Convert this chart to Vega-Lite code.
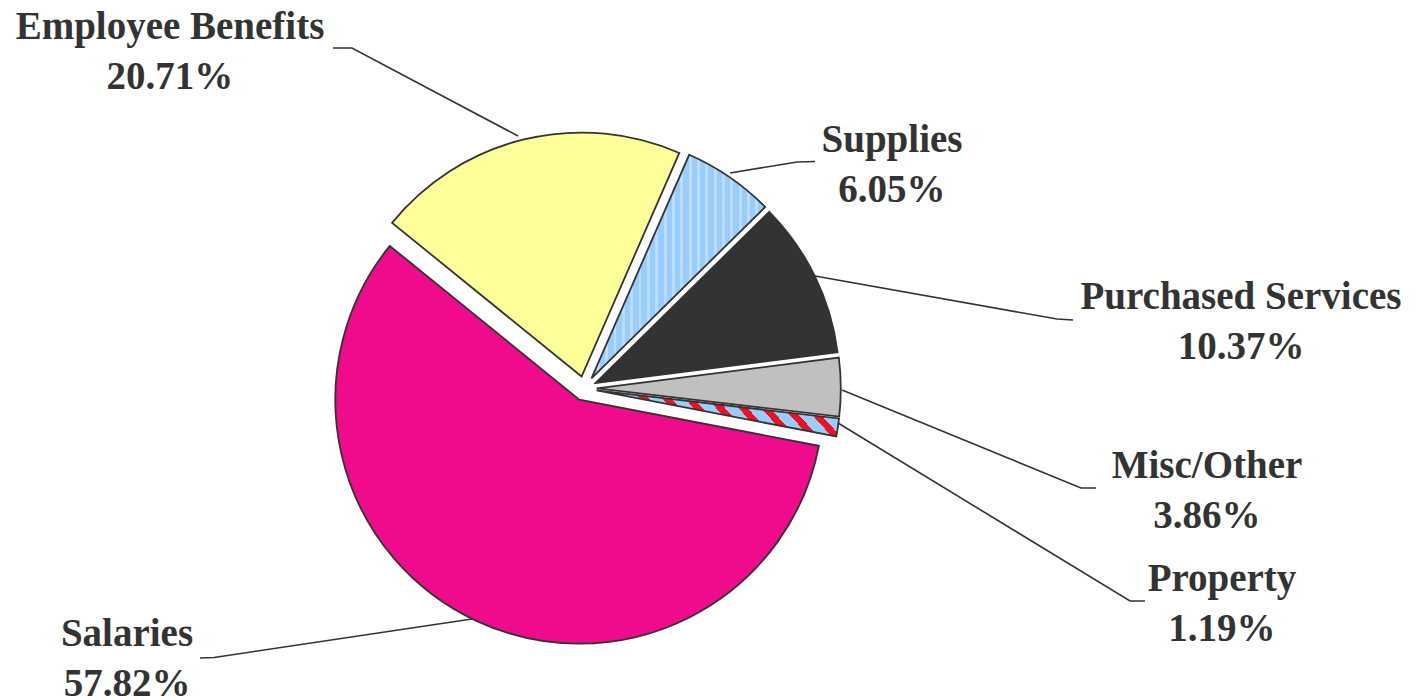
{
  "$schema": "https://vega.github.io/schema/vega-lite/v6.json",
  "width": 1425,
  "height": 700,
  "padding": 0,
  "autosize": "none",
  "background": "white",
  "config": {"view": {"stroke": null}},
  "datasets": {
    "slices": [
      {"category": "Salaries", "value": 57.82, "lx": -187.5, "ly": -100.61},
      {"category": "Employee Benefits", "value": 20.71, "lx": -169.88, "ly": 148.16},
      {"category": "Supplies", "value": 6.05, "lx": 126.02, "ly": 101.85},
      {"category": "Purchased Services", "value": 10.37, "lx": 269.06, "ly": 37.5},
      {"category": "Misc/Other", "value": 3.86, "lx": 255.12, "ly": -31.76},
      {"category": "Property", "value": 1.19, "lx": 261.27, "ly": -78.07}
    ],
    "leaders": [
      {"category": "Employee Benefits", "i": 0, "x": -103.07, "y": 139.55},
      {"category": "Employee Benefits", "i": 1, "x": -95.29, "y": 139.55},
      {"category": "Employee Benefits", "i": 2, "x": -27.25, "y": 103.48},
      {"category": "Supplies", "i": 0, "x": 94.47, "y": 93.03},
      {"category": "Supplies", "i": 1, "x": 87.09, "y": 92.83},
      {"category": "Supplies", "i": 2, "x": 59.63, "y": 88.32},
      {"category": "Purchased Services", "i": 0, "x": 200.2, "y": 28.07},
      {"category": "Purchased Services", "i": 1, "x": 193.65, "y": 28.48},
      {"category": "Purchased Services", "i": 2, "x": 94.47, "y": 46.11},
      {"category": "Misc/Other", "i": 0, "x": 209.63, "y": -40.78},
      {"category": "Misc/Other", "i": 1, "x": 203.48, "y": -40.78},
      {"category": "Misc/Other", "i": 2, "x": 105.53, "y": -0.61},
      {"category": "Property", "i": 0, "x": 229.71, "y": -87.09},
      {"category": "Property", "i": 1, "x": 223.57, "y": -87.09},
      {"category": "Property", "i": 2, "x": 103.89, "y": -14.14},
      {"category": "Salaries", "i": 0, "x": -157.58, "y": -110.45},
      {"category": "Salaries", "i": 1, "x": -151.84, "y": -110.25},
      {"category": "Salaries", "i": 2, "x": -46.11, "y": -94.47}
    ]
  },
  "layer": [
    {
      "data": {"name": "slices"},
      "transform": [
        {"stack": "value", "groupby": [], "as": ["start", "end"]},
        {"filter": "datum.category === 'Salaries'"}
      ],
      "mark": {"type": "arc", "outerRadius": 244, "fill": "#F00A8C", "stroke": "#333333", "strokeWidth": 1.8, "xOffset": -5.19, "yOffset": 11.15},
      "encoding": {
        "theta": {"field": "start", "type": "quantitative", "scale": {"domain": [0, 100], "range": [1.761, 8.0442]}},
        "theta2": {"field": "end"},
        "x": {"datum": 0, "type": "quantitative", "scale": {"domain": [-239.55, 344.47], "nice": false, "zero": false}, "axis": null},
        "y": {"datum": 0, "type": "quantitative", "scale": {"domain": [-127.66, 159.22], "nice": false, "zero": false}, "axis": null}
      }
    },
    {
      "data": {"name": "slices"},
      "transform": [
        {"stack": "value", "groupby": [], "as": ["start", "end"]},
        {"filter": "datum.category === 'Employee Benefits'"}
      ],
      "mark": {"type": "arc", "outerRadius": 244, "fill": "#FFFF99", "stroke": "#333333", "strokeWidth": 1.8, "xOffset": -2.91, "yOffset": -11.95},
      "encoding": {
        "theta": {"field": "start", "type": "quantitative", "scale": {"domain": [0, 100], "range": [1.761, 8.0442]}},
        "theta2": {"field": "end"},
        "x": {"datum": 0, "type": "quantitative", "scale": {"domain": [-239.55, 344.47], "nice": false, "zero": false}, "axis": null},
        "y": {"datum": 0, "type": "quantitative", "scale": {"domain": [-127.66, 159.22], "nice": false, "zero": false}, "axis": null}
      }
    },
    {
      "data": {"name": "slices"},
      "transform": [
        {"stack": "value", "groupby": [], "as": ["start", "end"]},
        {"filter": "datum.category === 'Supplies'"}
      ],
      "mark": {
        "type": "arc", "outerRadius": 244, "stroke": "#333333", "strokeWidth": 1.8, "xOffset": 6.97, "yOffset": -10.14,
        "fill": {
          "gradient": "linear", "x1": 0, "y1": 0, "x2": 1, "y2": 0,
          "stops": [
            {"offset": 0, "color": "#99CCFF"}, {"offset": 0.031, "color": "#99CCFF"}, {"offset": 0.031, "color": "#BBDDFF"}, {"offset": 0.048, "color": "#BBDDFF"},
            {"offset": 0.048, "color": "#99CCFF"}, {"offset": 0.079, "color": "#99CCFF"}, {"offset": 0.079, "color": "#BBDDFF"}, {"offset": 0.096, "color": "#BBDDFF"},
            {"offset": 0.096, "color": "#99CCFF"}, {"offset": 0.127, "color": "#99CCFF"}, {"offset": 0.127, "color": "#BBDDFF"}, {"offset": 0.144, "color": "#BBDDFF"},
            {"offset": 0.144, "color": "#99CCFF"}, {"offset": 0.175, "color": "#99CCFF"}, {"offset": 0.175, "color": "#BBDDFF"}, {"offset": 0.192, "color": "#BBDDFF"},
            {"offset": 0.192, "color": "#99CCFF"}, {"offset": 0.223, "color": "#99CCFF"}, {"offset": 0.223, "color": "#BBDDFF"}, {"offset": 0.24, "color": "#BBDDFF"},
            {"offset": 0.24, "color": "#99CCFF"}, {"offset": 0.271, "color": "#99CCFF"}, {"offset": 0.271, "color": "#BBDDFF"}, {"offset": 0.288, "color": "#BBDDFF"},
            {"offset": 0.288, "color": "#99CCFF"}, {"offset": 0.319, "color": "#99CCFF"}, {"offset": 0.319, "color": "#BBDDFF"}, {"offset": 0.336, "color": "#BBDDFF"},
            {"offset": 0.336, "color": "#99CCFF"}, {"offset": 0.367, "color": "#99CCFF"}, {"offset": 0.367, "color": "#BBDDFF"}, {"offset": 0.384, "color": "#BBDDFF"},
            {"offset": 0.384, "color": "#99CCFF"}, {"offset": 0.415, "color": "#99CCFF"}, {"offset": 0.415, "color": "#BBDDFF"}, {"offset": 0.432, "color": "#BBDDFF"},
            {"offset": 0.432, "color": "#99CCFF"}, {"offset": 0.463, "color": "#99CCFF"}, {"offset": 0.463, "color": "#BBDDFF"}, {"offset": 0.48, "color": "#BBDDFF"},
            {"offset": 0.48, "color": "#99CCFF"}, {"offset": 0.511, "color": "#99CCFF"}, {"offset": 0.511, "color": "#BBDDFF"}, {"offset": 0.528, "color": "#BBDDFF"},
            {"offset": 0.528, "color": "#99CCFF"}, {"offset": 0.559, "color": "#99CCFF"}, {"offset": 0.559, "color": "#BBDDFF"}, {"offset": 0.576, "color": "#BBDDFF"},
            {"offset": 0.576, "color": "#99CCFF"}, {"offset": 0.607, "color": "#99CCFF"}, {"offset": 0.607, "color": "#BBDDFF"}, {"offset": 0.624, "color": "#BBDDFF"},
            {"offset": 0.624, "color": "#99CCFF"}, {"offset": 0.655, "color": "#99CCFF"}, {"offset": 0.655, "color": "#BBDDFF"}, {"offset": 0.672, "color": "#BBDDFF"},
            {"offset": 0.672, "color": "#99CCFF"}, {"offset": 0.703, "color": "#99CCFF"}, {"offset": 0.703, "color": "#BBDDFF"}, {"offset": 0.72, "color": "#BBDDFF"},
            {"offset": 0.72, "color": "#99CCFF"}, {"offset": 0.751, "color": "#99CCFF"}, {"offset": 0.751, "color": "#BBDDFF"}, {"offset": 0.768, "color": "#BBDDFF"},
            {"offset": 0.768, "color": "#99CCFF"}, {"offset": 0.799, "color": "#99CCFF"}, {"offset": 0.799, "color": "#BBDDFF"}, {"offset": 0.816, "color": "#BBDDFF"},
            {"offset": 0.816, "color": "#99CCFF"}, {"offset": 0.847, "color": "#99CCFF"}, {"offset": 0.847, "color": "#BBDDFF"}, {"offset": 0.864, "color": "#BBDDFF"},
            {"offset": 0.864, "color": "#99CCFF"}, {"offset": 0.895, "color": "#99CCFF"}, {"offset": 0.895, "color": "#BBDDFF"}, {"offset": 0.912, "color": "#BBDDFF"},
            {"offset": 0.912, "color": "#99CCFF"}, {"offset": 0.943, "color": "#99CCFF"}, {"offset": 0.943, "color": "#BBDDFF"}, {"offset": 0.96, "color": "#BBDDFF"},
            {"offset": 0.96, "color": "#99CCFF"}, {"offset": 0.991, "color": "#99CCFF"}, {"offset": 0.991, "color": "#BBDDFF"}, {"offset": 1, "color": "#BBDDFF"}
          ]
        }
      },
      "encoding": {
        "theta": {"field": "start", "type": "quantitative", "scale": {"domain": [0, 100], "range": [1.761, 8.0442]}},
        "theta2": {"field": "end"},
        "x": {"datum": 0, "type": "quantitative", "scale": {"domain": [-239.55, 344.47], "nice": false, "zero": false}, "axis": null},
        "y": {"datum": 0, "type": "quantitative", "scale": {"domain": [-127.66, 159.22], "nice": false, "zero": false}, "axis": null}
      }
    },
    {
      "data": {"name": "slices"},
      "transform": [
        {"stack": "value", "groupby": [], "as": ["start", "end"]},
        {"filter": "datum.category === 'Purchased Services'"}
      ],
      "mark": {"type": "arc", "outerRadius": 244, "fill": "#333333", "stroke": "#333333", "strokeWidth": 1.8, "xOffset": 11.06, "yOffset": -5.38},
      "encoding": {
        "theta": {"field": "start", "type": "quantitative", "scale": {"domain": [0, 100], "range": [1.761, 8.0442]}},
        "theta2": {"field": "end"},
        "x": {"datum": 0, "type": "quantitative", "scale": {"domain": [-239.55, 344.47], "nice": false, "zero": false}, "axis": null},
        "y": {"datum": 0, "type": "quantitative", "scale": {"domain": [-127.66, 159.22], "nice": false, "zero": false}, "axis": null}
      }
    },
    {
      "data": {"name": "slices"},
      "transform": [
        {"stack": "value", "groupby": [], "as": ["start", "end"]},
        {"filter": "datum.category === 'Misc/Other'"}
      ],
      "mark": {"type": "arc", "outerRadius": 244, "fill": "#C0C0C0", "stroke": "#333333", "strokeWidth": 1.8, "xOffset": 12.3, "yOffset": -0.07},
      "encoding": {
        "theta": {"field": "start", "type": "quantitative", "scale": {"domain": [0, 100], "range": [1.761, 8.0442]}},
        "theta2": {"field": "end"},
        "x": {"datum": 0, "type": "quantitative", "scale": {"domain": [-239.55, 344.47], "nice": false, "zero": false}, "axis": null},
        "y": {"datum": 0, "type": "quantitative", "scale": {"domain": [-127.66, 159.22], "nice": false, "zero": false}, "axis": null}
      }
    },
    {
      "data": {"name": "slices"},
      "transform": [
        {"stack": "value", "groupby": [], "as": ["start", "end"]},
        {"filter": "datum.category === 'Property'"}
      ],
      "mark": {
        "type": "arc", "outerRadius": 244, "stroke": "#333333", "strokeWidth": 1.8, "xOffset": 12.16, "yOffset": 1.87,
        "fill": {
          "gradient": "linear", "x1": 0, "y1": 0, "x2": 1, "y2": -0.173,
          "stops": [
            {"offset": 0, "color": "#99CCFF"}, {"offset": 0.054, "color": "#99CCFF"}, {"offset": 0.054, "color": "#EE1122"}, {"offset": 0.09, "color": "#EE1122"},
            {"offset": 0.09, "color": "#99CCFF"}, {"offset": 0.144, "color": "#99CCFF"}, {"offset": 0.144, "color": "#EE1122"}, {"offset": 0.18, "color": "#EE1122"},
            {"offset": 0.18, "color": "#99CCFF"}, {"offset": 0.234, "color": "#99CCFF"}, {"offset": 0.234, "color": "#EE1122"}, {"offset": 0.27, "color": "#EE1122"},
            {"offset": 0.27, "color": "#99CCFF"}, {"offset": 0.324, "color": "#99CCFF"}, {"offset": 0.324, "color": "#EE1122"}, {"offset": 0.36, "color": "#EE1122"},
            {"offset": 0.36, "color": "#99CCFF"}, {"offset": 0.414, "color": "#99CCFF"}, {"offset": 0.414, "color": "#EE1122"}, {"offset": 0.45, "color": "#EE1122"},
            {"offset": 0.45, "color": "#99CCFF"}, {"offset": 0.504, "color": "#99CCFF"}, {"offset": 0.504, "color": "#EE1122"}, {"offset": 0.54, "color": "#EE1122"},
            {"offset": 0.54, "color": "#99CCFF"}, {"offset": 0.594, "color": "#99CCFF"}, {"offset": 0.594, "color": "#EE1122"}, {"offset": 0.63, "color": "#EE1122"},
            {"offset": 0.63, "color": "#99CCFF"}, {"offset": 0.684, "color": "#99CCFF"}, {"offset": 0.684, "color": "#EE1122"}, {"offset": 0.72, "color": "#EE1122"},
            {"offset": 0.72, "color": "#99CCFF"}, {"offset": 0.774, "color": "#99CCFF"}, {"offset": 0.774, "color": "#EE1122"}, {"offset": 0.81, "color": "#EE1122"},
            {"offset": 0.81, "color": "#99CCFF"}, {"offset": 0.864, "color": "#99CCFF"}, {"offset": 0.864, "color": "#EE1122"}, {"offset": 0.9, "color": "#EE1122"},
            {"offset": 0.9, "color": "#99CCFF"}, {"offset": 0.954, "color": "#99CCFF"}, {"offset": 0.954, "color": "#EE1122"}, {"offset": 0.99, "color": "#EE1122"},
            {"offset": 0.99, "color": "#99CCFF"}, {"offset": 1, "color": "#99CCFF"}
          ]
        }
      },
      "encoding": {
        "theta": {"field": "start", "type": "quantitative", "scale": {"domain": [0, 100], "range": [1.761, 8.0442]}},
        "theta2": {"field": "end"},
        "x": {"datum": 0, "type": "quantitative", "scale": {"domain": [-239.55, 344.47], "nice": false, "zero": false}, "axis": null},
        "y": {"datum": 0, "type": "quantitative", "scale": {"domain": [-127.66, 159.22], "nice": false, "zero": false}, "axis": null}
      }
    },
    {
      "data": {"name": "leaders"},
      "mark": {"type": "line", "stroke": "#333333", "strokeWidth": 1.6},
      "encoding": {
        "x": {"field": "x", "type": "quantitative", "scale": {"domain": [-239.55, 344.47], "nice": false, "zero": false}, "axis": null},
        "y": {"field": "y", "type": "quantitative", "scale": {"domain": [-127.66, 159.22], "nice": false, "zero": false}, "axis": null},
        "detail": {"field": "category"},
        "order": {"field": "i"}
      }
    },
    {
      "data": {"name": "slices"},
      "transform": [
        {"calculate": "datum.category + '\\n' + format(datum.value, '.2f') + '%'", "as": "label"}
      ],
      "mark": {"type": "text", "font": "Liberation Serif", "fontWeight": "bold", "fontSize": 39, "fill": "#333333", "align": "center", "baseline": "middle", "lineBreak": "\n", "lineHeight": 50},
      "encoding": {
        "x": {"field": "lx", "type": "quantitative", "scale": {"domain": [-239.55, 344.47], "nice": false, "zero": false}, "axis": null},
        "y": {"field": "ly", "type": "quantitative", "scale": {"domain": [-127.66, 159.22], "nice": false, "zero": false}, "axis": null},
        "text": {"field": "label"}
      }
    }
  ]
}
